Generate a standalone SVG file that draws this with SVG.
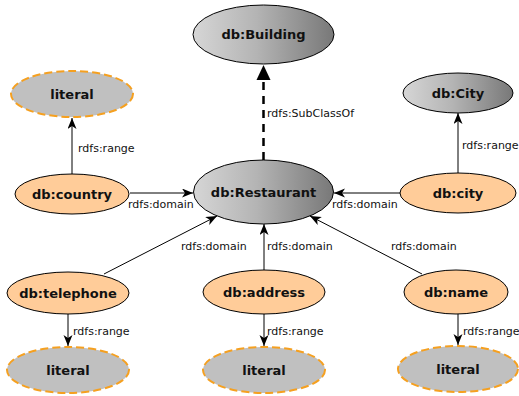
<svg xmlns="http://www.w3.org/2000/svg" width="519" height="396" viewBox="0 0 519 396">
<style>
.node text{font-family:"DejaVu Sans",Verdana,sans-serif;font-weight:bold;font-size:13px;text-anchor:middle;fill:#111}
.lbl{font-family:"DejaVu Sans",Verdana,sans-serif;font-size:11px;fill:#111}
.cls{stroke:#000;stroke-width:1}
.prop{fill:#ffcc99;stroke:#000;stroke-width:1}
.lit{fill:#c0c0c0;stroke:#f5a020;stroke-width:2;stroke-dasharray:8 4}
.edge{stroke:#000;stroke-width:1;fill:none;marker-end:url(#arr)}
</style>
<defs>
<linearGradient id="g1" x1="0" y1="0" x2="1" y2="0">
<stop offset="0" stop-color="#d6d6d6"/>
<stop offset="0.45" stop-color="#b4b4b4"/>
<stop offset="1" stop-color="#787878"/>
</linearGradient>
<marker id="arr" markerUnits="userSpaceOnUse" markerWidth="12" markerHeight="10" refX="11" refY="4.5" orient="auto">
<path d="M0,0 L11,4.5 L0,9 L3,4.5 z" fill="#000"/>
</marker>
</defs>
<g id="connectors">
<line x1="263.5" y1="160" x2="263.5" y2="81" stroke="#000" stroke-width="2.5" stroke-dasharray="8 6"/>
<path d="M256.5,80 L263.5,65 L270.5,80 z" fill="#000"/>
<text class="lbl" x="267" y="117">rdfs:SubClassOf</text>
<line class="edge" x1="72" y1="174" x2="72" y2="118"/>
<text class="lbl" x="78" y="152">rdfs:range</text>
<line class="edge" x1="130" y1="193" x2="193" y2="193"/>
<text class="lbl" x="128" y="208">rdfs:domain</text>
<line class="edge" x1="458" y1="173" x2="458" y2="113"/>
<text class="lbl" x="462" y="149">rdfs:range</text>
<line class="edge" x1="400" y1="193" x2="334" y2="193"/>
<text class="lbl" x="332" y="208">rdfs:domain</text>
<line class="edge" x1="104" y1="274" x2="217" y2="216"/>
<text class="lbl" x="181" y="250">rdfs:domain</text>
<line class="edge" x1="264" y1="270" x2="264" y2="224"/>
<text class="lbl" x="267" y="250">rdfs:domain</text>
<line class="edge" x1="422" y1="274" x2="310" y2="216"/>
<text class="lbl" x="391" y="250">rdfs:domain</text>
<line class="edge" x1="68" y1="314" x2="68" y2="346"/>
<text class="lbl" x="73" y="335">rdfs:range</text>
<line class="edge" x1="264" y1="314" x2="264" y2="346"/>
<text class="lbl" x="267" y="335">rdfs:range</text>
<line class="edge" x1="458" y1="314" x2="458" y2="345"/>
<text class="lbl" x="463" y="335">rdfs:range</text>
</g>
<g id="n-building" class="node"><ellipse class="cls" cx="263.5" cy="34.5" rx="70.5" ry="29.5" fill="url(#g1)"/><text x="263.5" y="39">db:Building</text></g>
<g id="n-restaurant" class="node"><ellipse class="cls" cx="263.5" cy="192" rx="70" ry="32" fill="url(#g1)"/><text x="263.5" y="196.5">db:Restaurant</text></g>
<g id="n-citycls" class="node"><ellipse class="cls" cx="458" cy="93" rx="55" ry="20" fill="url(#g1)"/><text x="458" y="97.5">db:City</text></g>
<g id="n-lit1" class="node"><ellipse class="lit" cx="72" cy="94" rx="61" ry="23"/><text x="72" y="98.5">literal</text></g>
<g id="n-country" class="node"><ellipse class="prop" cx="72" cy="194" rx="57" ry="20"/><text x="72" y="198.5">db:country</text></g>
<g id="n-city" class="node"><ellipse class="prop" cx="458" cy="193" rx="58" ry="20"/><text x="458" y="197.5">db:city</text></g>
<g id="n-telephone" class="node"><ellipse class="prop" cx="68" cy="293" rx="61" ry="21"/><text x="68" y="297.5">db:telephone</text></g>
<g id="n-address" class="node"><ellipse class="prop" cx="264" cy="292" rx="61" ry="22"/><text x="264" y="296.5">db:address</text></g>
<g id="n-name" class="node"><ellipse class="prop" cx="456" cy="292" rx="52" ry="22"/><text x="456" y="296.5">db:name</text></g>
<g id="n-lit2" class="node"><ellipse class="lit" cx="68" cy="370" rx="61" ry="23"/><text x="68" y="374.5">literal</text></g>
<g id="n-lit3" class="node"><ellipse class="lit" cx="264" cy="370" rx="61" ry="23"/><text x="264" y="374.5">literal</text></g>
<g id="n-lit4" class="node"><ellipse class="lit" cx="458" cy="369" rx="60" ry="23"/><text x="458" y="373.5">literal</text></g>
</svg>
